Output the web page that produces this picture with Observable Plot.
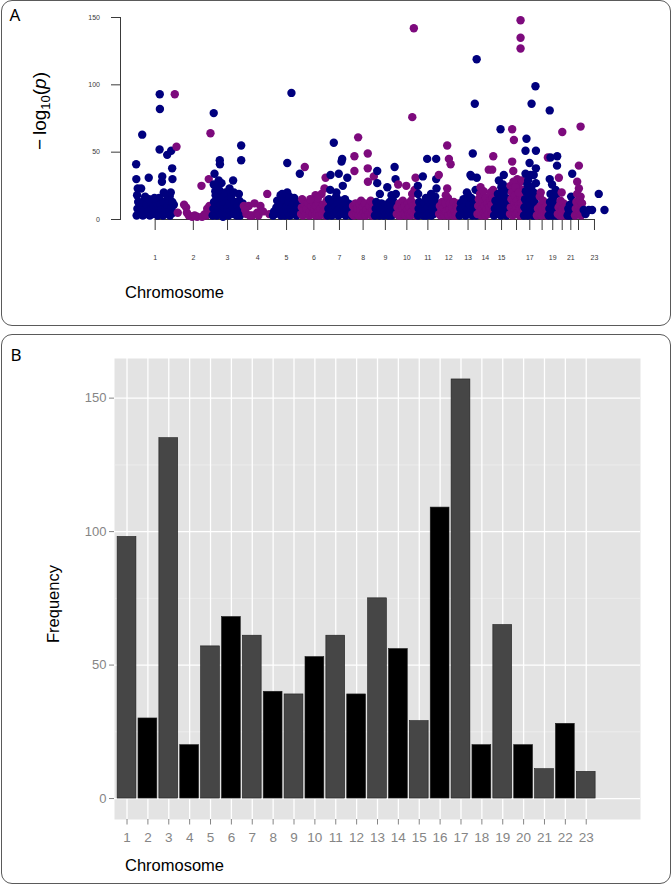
<!DOCTYPE html>
<html><head><meta charset="utf-8">
<script src="https://cdn.jsdelivr.net/npm/d3@7"></script>
<script src="https://cdn.jsdelivr.net/npm/@observablehq/plot@0.6"></script>
<style>
html,body{margin:0;padding:0;background:#fff;}
#root{position:relative;width:672px;height:884px;overflow:hidden;font-family:"Liberation Sans",Arial,sans-serif;}
.box{position:absolute;border:1.3px solid #5a5a5a;border-radius:11px;box-sizing:border-box;}
#plotA,#plotB,#overlay{position:absolute;left:0;}
#plotA{top:0;} #plotB{top:334px;} #overlay{top:0;pointer-events:none;}
</style></head><body>
<div id="root">
  <div class="box" style="left:1px;top:0px;width:670px;height:326px;"></div>
  <div class="box" style="left:1px;top:334px;width:670px;height:550px;"></div>
  <div id="plotA"></div>
  <div id="plotB"></div>
  <svg id="overlay" width="672" height="884"></svg>
</div>
<script>
// ---------- DATA ----------
const chromosomes = [1,2,3,4,5,6,7,8,9,10,11,12,13,14,15,16,17,18,19,20,21,22,23];
const chrLengthsMb = [249,243,198,191,181,171,159,146,141,136,135,134,115,107,103,90,81,78,59,63,48,51,155];
const manhattanTickLabels = ["1","2","3","4","5","6","7","8","9","10","11","12","13","14","15","","17","","19","","21","","23"];
const barTickLabels = ["1","2","3","4","5","6","7","8","9","10","11","12","13","14","15","16","17","18","19","20","21","22","23"];
const yTicksA = [0,50,100,150];
const yTicksB = [0,50,100,150];
const yMinorB = [25,75,125];
const frequencies = [98,30,135,20,57,68,61,40,39,53,61,39,75,56,29,109,157,20,65,20,11,28,10];

// Manhattan points per chromosome: [position within chromosome (Mb), -log10(p)]
const chr1 = [[2,41],[3,30],[41,63],[83,31],[154,93],[155,82],[153,52],[202,48],[228,51],[234,38],[170,32],[168,28],[236,30],[180,20],[34,23],[12,23],[8,18],[218,17],[150,16],
  [5,3],[10,8],[15,13],[25,5],[35,10],[45,3],[50,14],[55,7],[65,4],[70,11],[80,6],[90,3],[95,12],[100,8],[110,4],[115,10],[125,6],[130,13],[140,3],[145,9],[150,5],[160,11],[165,7],[175,3],[180,13],[190,8],[195,4],[205,10],[210,15],[215,6],[220,3],[230,9],[235,13],[240,5],[245,11],[60,17],[120,16],[200,18],[225,20],[85,15]];
const chr2 = [[2,93],[13,54],[21,5],[75,9],[92,3],[114,2],[146,2],[178,2],[174,25],[221,30],[232,64],[211,8],[62,11],[80,5],[130,3],[195,4],[225,10],[238,6],[205,3]];
const chr3 = [[10,79],[49,44],[50,41],[15,34],[60,27],[135,29],[187,55],[187,44],[172,19],[42,29],[10,26],[20,21],[55,20],[120,18],[75,17],
  [3,3],[8,8],[12,13],[18,5],[22,18],[25,10],[30,3],[35,14],[40,7],[45,22],[52,4],[55,11],[62,16],[65,6],[70,2],[75,12],[80,8],[85,20],[90,4],[95,14],[100,9],[105,3],[110,12],[118,6],[122,17],[128,10],[140,4],[145,13],[150,8],[158,3],[162,11],[168,6],[175,14],[180,3],[185,9],[192,5],[196,12],[30,25],[140,20],[112,23]];
const chr4 = [[6,10],[23,4],[38,10],[113,10],[92,5],[157,19],[189,4],[15,7],[60,3],[75,12],[100,3],[130,6],[170,4],[45,3]];
const chr5 = [[122,94],[95,42],[176,34],[52,18],[95,20],[41,13],[3,3],[10,6],[18,4],[25,9],[30,14],[38,5],[45,8],[55,3],[60,11],[68,6],[75,15],[80,3],[88,9],[100,5],[105,13],[112,3],[118,8],[128,11],[135,4],[140,16],[148,7],[155,3],[160,10],[168,5],[172,13],[178,4],[62,19],[110,17]];
const chr6 = [[27,39],[10,15],[96,18],[135,19],[161,31],[154,23],[3,4],[8,9],[15,3],[20,7],[28,11],[35,4],[40,8],[48,12],[55,3],[60,6],[68,10],[75,4],[80,13],[88,7],[95,3],[100,10],[108,5],[115,12],[120,3],[128,8],[140,4],[145,11],[150,6],[158,3],[165,9],[168,14],[112,16],[62,15]];
const chr7 = [[43,57],[97,45],[93,43],[22,33],[75,34],[130,31],[101,25],[20,22],[3,3],[8,8],[12,15],[18,5],[25,11],[30,3],[35,7],[40,13],[48,4],[52,9],[58,17],[62,6],[68,12],[72,3],[80,8],[85,14],[90,4],[105,10],[110,5],[115,15],[120,3],[125,8],[135,12],[140,4],[145,9],[150,5],[155,11],[157,3],[60,20]];
const chr8 = [[41,61],[17,47],[103,49],[17,36],[103,38],[104,28],[142,32],[3,4],[8,10],[12,3],[20,7],[25,12],[30,4],[35,8],[45,3],[50,11],[55,6],[60,14],[65,3],[72,9],[78,5],[85,12],[90,3],[95,7],[108,4],[112,10],[118,5],[122,14],[128,3],[132,8],[138,11],[143,4]];
const chr9 = [[18,36],[130,39],[136,30],[18,27],[83,24],[35,19],[3,3],[8,8],[12,13],[22,5],[28,10],[32,3],[40,7],[45,12],[50,4],[55,9],[60,3],[65,6],[72,11],[78,4],[88,8],[92,3],[98,13],[102,6],[108,10],[112,3],[118,15],[122,7],[128,4],[133,11],[138,19],[110,18]];
const chr10 = [[113,142],[103,76],[12,26],[64,25],[124,31],[102,19],[3,4],[8,9],[15,3],[20,12],[25,6],[30,3],[38,8],[42,14],[48,4],[55,10],[60,3],[70,7],[75,12],[80,4],[85,9],[90,3],[95,14],[100,6],[108,10],[115,4],[120,8],[128,3],[132,12],[118,22]];
const chr11 = [[63,45],[121,45],[35,32],[121,30],[5,19],[3,25],[123,23],[4,3],[8,8],[12,13],[18,4],[25,10],[30,6],[40,3],[45,12],[50,7],[55,16],[60,3],[68,9],[72,14],[78,5],[85,11],[90,3],[95,8],[100,13],[105,4],[110,10],[115,17],[128,6],[132,12],[88,19]];
const chr12 = [[57,55],[68,45],[79,41],[3,33],[57,23],[5,4],[10,10],[15,3],[20,7],[25,13],[30,4],[35,9],[40,3],[45,12],[50,6],[62,16],[65,3],[72,8],[75,12],[85,4],[90,9],[95,3],[100,13],[105,6],[110,3],[115,10],[120,4],[125,8],[130,12],[48,18]];
const chr13 = [[113,119],[101,86],[88,49],[80,32],[114,31],[73,33],[106,22],[3,3],[8,8],[12,12],[18,4],[22,9],[28,15],[32,5],[38,10],[42,3],[48,13],[52,7],[58,18],[62,4],[68,11],[72,6],[78,16],[85,3],[90,9],[95,13],[100,5],[108,10],[112,14],[110,3],[50,20]];
const chr14 = [[76,37],[105,47],[98,37],[23,24],[104,22],[3,4],[8,10],[12,15],[15,5],[20,19],[28,3],[32,8],[38,13],[42,21],[45,5],[50,10],[55,3],[58,16],[62,7],[68,12],[72,4],[80,9],[85,14],[88,20],[92,5],[96,11],[100,4],[102,16]];
const chr15 = [[45,67],[66,33],[34,29],[50,24],[3,3],[8,8],[12,14],[18,5],[22,11],[28,19],[32,4],[38,9],[42,15],[48,3],[55,12],[58,7],[62,20],[70,4],[74,10],[80,16],[84,3],[88,8],[92,13],[96,22],[100,5],[60,26]];
const chr16 = [[71,148],[71,135],[71,127],[17,67],[28,59],[17,43],[24,36],[6,25],[50,30],[62,27],[80,29],[85,22],[3,4],[8,9],[12,15],[15,20],[20,3],[30,6],[32,12],[35,18],[40,4],[45,9],[48,14],[52,22],[55,5],[58,11],[65,3],[68,8],[72,17],[75,12],[78,4],[82,9],[85,15],[88,6],[25,28],[38,24],[60,20]];
const chr17 = [[77,99],[52,86],[19,60],[13,51],[80,51],[39,42],[80,38],[80,27],[13,34],[45,33],[66,33],[3,3],[6,9],[10,15],[15,21],[18,5],[22,12],[25,26],[28,3],[32,8],[35,18],[38,13],[42,4],[46,10],[50,24],[55,6],[58,15],[62,3],[65,20],[68,9],[72,13],[75,4],[78,18],[30,29]];
const chr18 = [[24,17],[50,13],[76,46],[5,3],[12,8],[20,4],[28,10],[35,3],[40,7],[45,14],[55,4],[60,9],[65,3],[70,11],[75,6],[30,20]];
const chr19 = [[10,81],[58,47],[15,46],[57,40],[10,30],[15,19],[55,19],[3,3],[8,8],[12,13],[18,4],[22,10],[28,3],[32,15],[35,7],[40,11],[45,4],[48,22],[50,8],[55,3],[25,26]];
const chr20 = [[32,65],[10,31],[21,14],[3,4],[8,9],[15,3],[18,11],[25,6],[30,3],[35,8],[40,12],[45,4],[50,9],[55,3],[60,7],[28,20]];
const chr21 = [[33,34],[26,17],[3,3],[8,8],[12,5],[18,11],[22,3],[30,7],[35,12],[40,4],[45,9]];
const chr22 = [[39,69],[28,40],[17,28],[28,23],[17,19],[39,17],[3,3],[8,8],[12,13],[20,4],[24,10],[32,6],[35,14],[42,3],[45,9],[48,12]];
const chr23 = [[8,7],[41,7],[62,7],[105,19],[142,7],[20,4]];
const chrPoints = [chr1,chr2,chr3,chr4,chr5,chr6,chr7,chr8,chr9,chr10,chr11,chr12,chr13,chr14,chr15,chr16,chr17,chr18,chr19,chr20,chr21,chr22,chr23];

// ---------- STYLE / LAYOUT ----------
const NAVY = "#00007e", PURPLE = "#7d0a7d";
const BAR_GREY = "#464646", BAR_BLACK = "#000000";
const axisGapMb = 99; // space between the y axis and chromosome 1

// ---------- DERIVED ----------
const starts = [];
let acc = 0;
chrLengthsMb.forEach(l => { starts.push(acc); acc += l; });
const totalMb = acc;
const centers = chrLengthsMb.map((l, i) => starts[i] + l / 2);
const centerLabel = new Map(centers.map((c, i) => [c, manhattanTickLabels[i]]));
const points = chrPoints.flatMap((arr, i) => arr.map(([pos, v]) => ({chr: chromosomes[i], x: starts[i] + pos, y: v})));
const bars = chromosomes.map((c, i) => ({chr: c, n: frequencies[i]}));

const plotA = Plot.plot({
  width: 672, height: 326,
  marginLeft: 120, marginRight: 66, marginTop: 17, marginBottom: 107,
  x: {domain: [-axisGapMb, totalMb], axis: null},
  y: {domain: [0, 150], axis: null},
  style: {background: "transparent", fontFamily: "'Liberation Sans', Arial, sans-serif", overflow: "visible"},
  marks: [
    Plot.frame({anchor: "left", stroke: "#3a3a3a", strokeWidth: 1}),
    Plot.axisY(yTicksA, {label: null, tickSize: 9, tickPadding: 11.5, fontSize: 7, color: "#3a3a3a"}),
    Plot.ruleY([0], {x1: centers[0], x2: centers[centers.length - 1], stroke: "#3a3a3a", strokeWidth: 1}),
    Plot.axisX(centers, {label: null, tickSize: 11, tickPadding: 24.5, fontSize: 7, color: "#3a3a3a", tickFormat: d => centerLabel.get(d)}),
    Plot.dot(points, {x: "x", y: "y", r: 4.2, fill: d => d.chr % 2 ? NAVY : PURPLE, stroke: "none"})
  ]
});
document.getElementById("plotA").append(plotA);

const plotB = Plot.plot({
  width: 672, height: 550,
  marginLeft: 114, marginRight: 32, marginTop: 24, marginBottom: 65,
  x: {domain: [0.4, 25.6], axis: null},
  y: {domain: [-7.85, 164.85], axis: null},
  style: {background: "transparent", fontFamily: "'Liberation Sans', Arial, sans-serif", overflow: "visible"},
  marks: [
    Plot.frame({fill: "#e3e3e3", stroke: "none"}),
    Plot.ruleY(yMinorB, {stroke: "#f0f0f0", strokeWidth: 0.7}),
    Plot.ruleY(yTicksB, {stroke: "#ffffff", strokeWidth: 1.3}),
    Plot.ruleX(chromosomes, {stroke: "#ffffff", strokeWidth: 1.3}),
    Plot.rect(bars, {x1: d => d.chr - 0.45, x2: d => d.chr + 0.45, y1: 0, y2: "n",
      fill: d => d.chr % 2 ? BAR_GREY : BAR_BLACK, stroke: "#1e1e1e", strokeWidth: 0.6}),
    Plot.axisY(yTicksB, {label: null, tickSize: 5, tickPadding: 3, fontSize: 13, color: "#858585"}),
    Plot.axisX(chromosomes, {label: null, tickSize: 5.5, tickPadding: 7.5, fontSize: 13.5, color: "#858585", tickFormat: d => barTickLabels[d - 1]})
  ]
});
document.getElementById("plotB").append(plotB);

// ---------- PANEL LABELS & AXIS TITLES ----------
const ov = d3.select("#overlay");
ov.append("text").attr("x", 9.5).attr("y", 20.5).style("font-family", "'Noto Sans', 'Open Sans', sans-serif").style("font-size", "17px").text("A");
ov.append("text").attr("x", 10.5).attr("y", 360.5).style("font-family", "'Noto Sans', 'Open Sans', sans-serif").style("font-size", "17px").text("B");

const ylab = ov.append("text").attr("transform", "translate(46,111) rotate(-90)").attr("text-anchor", "middle")
  .style("font-family", "'Liberation Sans', Arial, sans-serif").style("font-size", "19px");
ylab.append("tspan").text("\u2212\u2009log");
ylab.append("tspan").style("font-size", "13px").attr("dy", 4).text("10");
ylab.append("tspan").attr("dy", -4).text("(");
ylab.append("tspan").style("font-style", "italic").text("p");
ylab.append("tspan").text(")");

ov.append("text").attr("x", 125).attr("y", 298).style("font-family", "'Liberation Sans', Arial, sans-serif").style("font-size", "16.5px").text("Chromosome");
ov.append("text").attr("x", 125).attr("y", 871).style("font-family", "'Liberation Sans', Arial, sans-serif").style("font-size", "16.5px").text("Chromosome");
ov.append("text").attr("transform", "translate(59,604) rotate(-90)").attr("text-anchor", "middle")
  .style("font-family", "'Liberation Sans', Arial, sans-serif").style("font-size", "16.5px").text("Frequency");
</script>
</body></html>
